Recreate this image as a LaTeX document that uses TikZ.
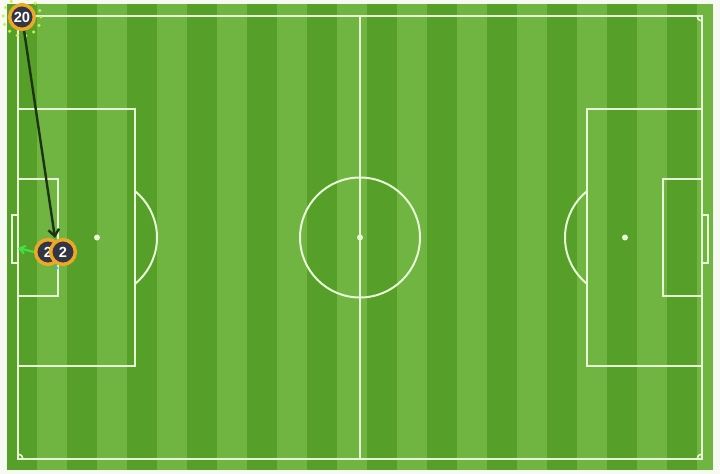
\documentclass[tikz,border=0pt]{standalone}
\usepackage{fontspec}
\setsansfont{Liberation Sans}
\usetikzlibrary{arrows.meta}
\definecolor{pitchlight}{RGB}{112,180,66}
\definecolor{pitchdark}{RGB}{86,160,42}
\definecolor{pitchline}{RGB}{232,247,214}
\definecolor{pitchmargin}{RGB}{246,250,243}
\definecolor{badgefill}{RGB}{52,54,68}
\definecolor{badgering}{RGB}{238,168,40}
\definecolor{passline}{RGB}{28,52,20}
\definecolor{clearline}{RGB}{64,226,64}
\definecolor{ringdots}{RGB}{210,236,70}
\tikzset{
  pitch/.style={pitchline, line width=1.5pt},
  badge/.style={circle, fill=badgefill, draw=badgering, line width=2.6pt,
    minimum size=18.5pt, inner sep=0pt, text=white,
    font=\sffamily\bfseries\fontsize{11}{11}\selectfont},
  pass/.style={passline, line width=1.8pt, -{Straight Barb[length=5pt,width=8pt]}},
  clear/.style={clearline, line width=1.6pt, -{Straight Barb[length=4pt,width=6pt]}},
}
\begin{document}
\begin{tikzpicture}[x=0.75pt,y=-0.75pt]
    \useasboundingbox (0,0) rectangle (720,474);
    %% Grass and stripes
    \fill[pitchmargin] (0,0) rectangle (720,474);
    \fill[pitchlight] (7,4) rectangle (713,470);
    \foreach \x in {7,67,...,667}
        \fill[pitchdark] (\x,4) rectangle ++(30,466);
    %% Touchlines and halfway line
    \draw[pitch] (18,16) rectangle (702,459);
    \draw[pitch] (360,16) -- (360,459);
    \draw[pitch] (360,237.5) circle (60);
    \fill[pitchline] (360,237.5) circle (3);
    %% Left end
    \draw[pitch] (18,109) rectangle (135,366);
    \draw[pitch] (18,179) rectangle (58,296);
    \draw[pitch, line width=1.2pt] (12,215) rectangle (18,263);
    \fill[pitchline] (97,237.5) circle (3);
    \begin{scope}
        \clip (135,100) rectangle (200,380);
        \draw[pitch] (97,237.5) circle (60);
    \end{scope}
    %% Right end
    \draw[pitch] (587,109) rectangle (702,366);
    \draw[pitch] (663,179) rectangle (702,296);
    \draw[pitch, line width=1.2pt] (702,215) rectangle (708,263);
    \fill[pitchline] (625,237.5) circle (3);
    \begin{scope}
        \clip (540,100) rectangle (587,380);
        \draw[pitch] (625,237.5) circle (60);
    \end{scope}
    %% Corner arcs
    \begin{scope}
        \clip (18,16) rectangle (702,459);
        \foreach \cx/\cy in {18/16,702/16,18/459,702/459}
            \draw[pitch, line width=1.2pt] (\cx,\cy) circle (5);
    \end{scope}
    %% Players
    \draw[ringdots, line width=2.6pt, line cap=round, dash pattern=on 0pt off 6.5pt] (22,17) circle (19);
    \node[badge] (p20) at (22,17) {20};
    \node[badge] (p2b) at (48,252) {2};
    \node[badge] (p2) at (63,252) {2};
    \fill[cyan!80!white] (57,268) circle (1.6);
    %% Pass and clearance
    \coordinate (passend) at (55,238);
    \coordinate (clearend) at (18,248);
    \draw[pass] (p20) -- (passend);
    \draw[clear] (p2b.west) -- (clearend);
\end{tikzpicture}
\end{document}
